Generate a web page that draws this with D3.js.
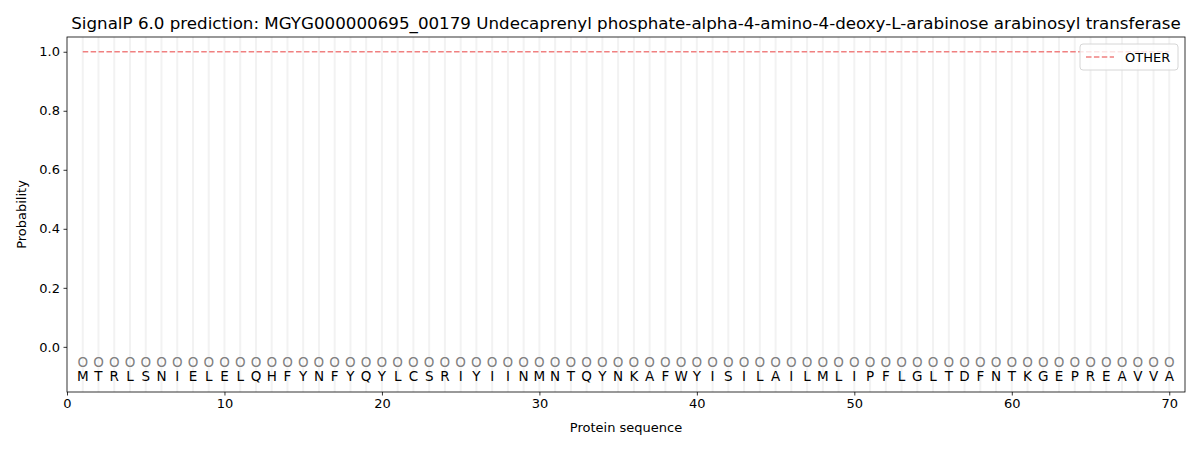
<!DOCTYPE html>
<html>
<head>
<meta charset="utf-8">
<script src="https://cdn.jsdelivr.net/npm/d3@7"></script>
<style>
  body { margin: 0; background: #fff; }
  text { font-family: "DejaVu Sans", sans-serif; fill: #000; }
</style>
</head>
<body>
<svg id="chart" width="1200" height="450"></svg>
<script>
"use strict";

// Sequence residues (positions 1..70).
const residues = "MTRLSNIELELQHFYNFYQYLCSRIYIINMNTQYNKAFWYISILAILMLIPFLGLTDFNTKGEPREAVVA".split("");
// Per-position probability for the single predicted class.
const otherProb = residues.map(() => 1.0);
// Predicted label per position (all "O" = other).
const labels = residues.map(() => "O");
const xTicks = [0, 10, 20, 30, 40, 50, 60, 70];
const yTicks = [0.0, 0.2, 0.4, 0.6, 0.8, 1.0];
const title = "SignalP 6.0 prediction: MGYG000000695_00179 Undecaprenyl phosphate-alpha-4-amino-4-deoxy-L-arabinose arabinosyl transferase";

const margin = {left: 67, right: 15, top: 37, bottom: 58};
const width = 1200, height = 450;

const svg = d3.select("#chart");

const x = d3.scaleLinear().domain([0, 71]).range([margin.left, width - margin.right]);
const y = d3.scaleLinear().domain([-0.153, 1.05]).range([height - margin.bottom, margin.top]);

// Light vertical guide at each residue.
svg.append("g").selectAll("line")
  .data(residues)
  .enter().append("line")
  .attr("x1", (d, i) => x(i + 1)).attr("x2", (d, i) => x(i + 1))
  .attr("y1", margin.top).attr("y2", height - margin.bottom)
  .attr("stroke", "#f2f2f2").attr("stroke-width", 2);

// Probability line for OTHER.
const line = d3.line().x((d, i) => x(i + 1)).y(d => y(d));
svg.append("path")
  .datum(otherProb)
  .attr("d", line)
  .attr("fill", "none")
  .attr("stroke", "#f08080")
  .attr("stroke-width", 1.7)
  .attr("stroke-dasharray", "5.5,2.4");

// Predicted labels (grey) and residue letters.
svg.append("g").selectAll("text")
  .data(labels)
  .enter().append("text")
  .attr("x", (d, i) => x(i + 1)).attr("y", y(-0.05) + 5)
  .attr("text-anchor", "middle")
  .attr("font-size", "13.5px")
  .style("fill", "#808080")
  .text(d => d);

svg.append("g").selectAll("text")
  .data(residues)
  .enter().append("text")
  .attr("x", (d, i) => x(i + 1)).attr("y", y(-0.1) + 5)
  .attr("text-anchor", "middle")
  .attr("font-size", "13.5px")
  .text(d => d);

// Axes.
const xAxis = svg.append("g")
  .attr("transform", `translate(0,${height - margin.bottom})`)
  .call(d3.axisBottom(x).tickValues(xTicks).tickFormat(d3.format("d")).tickSizeOuter(0).tickSize(3.5).tickPadding(3.5));
const yAxis = svg.append("g")
  .attr("transform", `translate(${margin.left},0)`)
  .call(d3.axisLeft(y).tickValues(yTicks).tickFormat(d3.format(".1f")).tickSizeOuter(0).tickSize(3.5).tickPadding(3.5));
[xAxis, yAxis].forEach(a => {
  a.selectAll("text").attr("font-size", "13px").attr("font-family", "DejaVu Sans, sans-serif");
  a.select(".domain").remove();
  a.selectAll("line").attr("stroke", "#000").attr("stroke-width", 0.8);
});

// Frame.
svg.append("rect")
  .attr("x", margin.left).attr("y", margin.top)
  .attr("width", width - margin.left - margin.right)
  .attr("height", height - margin.top - margin.bottom)
  .attr("fill", "none").attr("stroke", "#000").attr("stroke-width", 0.8);

// Labels.
svg.append("text").attr("x", (margin.left + width - margin.right) / 2).attr("y", 29)
  .attr("text-anchor", "middle").attr("font-size", "16.7px").text(title);
svg.append("text").attr("x", (margin.left + width - margin.right) / 2).attr("y", 432)
  .attr("text-anchor", "middle").attr("font-size", "13px").text("Protein sequence");
svg.append("text")
  .attr("transform", `translate(26,${(margin.top + height - margin.bottom) / 2}) rotate(-90)`)
  .attr("text-anchor", "middle").attr("font-size", "13px").text("Probability");

// Legend.
const lg = svg.append("g").attr("transform", "translate(1080,44)");
lg.append("rect").attr("width", 98).attr("height", 26).attr("rx", 3)
  .attr("fill", "rgba(255,255,255,0.8)").attr("stroke", "#d6d6d6");
lg.append("line").attr("x1", 6).attr("x2", 34).attr("y1", 13).attr("y2", 13)
  .attr("stroke", "#f08080").attr("stroke-width", 1.7).attr("stroke-dasharray", "5.5,2.4");
lg.append("text").attr("x", 45).attr("y", 17.5).attr("font-size", "13px").text("OTHER");
</script>
</body>
</html>
